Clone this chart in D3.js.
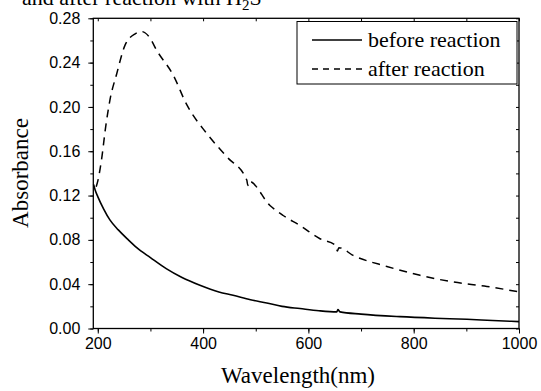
<!DOCTYPE html>
<html><head>
<meta charset="UTF-8">
<style>
  body { margin:0; background:#fff; }
  svg { display:block; }
</style>
<script src="https://cdn.jsdelivr.net/npm/d3@7/dist/d3.min.js"></script>
</head><body>
<svg id="chart" width="541" height="391"></svg>
<script>
// data
const beforeWl = [192, 195, 200, 211, 223, 239, 258, 274, 300, 330, 360, 394, 430, 457, 490, 521, 550, 584, 620, 654, 656, 660, 700, 774, 840, 901, 950, 1000];
const beforeAbs = [0.130, 0.125, 0.119, 0.108, 0.098, 0.089, 0.080, 0.073, 0.064, 0.054, 0.046, 0.039, 0.033, 0.030, 0.026, 0.023, 0.020, 0.018, 0.016, 0.015, 0.017, 0.015, 0.013, 0.0107, 0.0093, 0.0083, 0.0072, 0.0062];

const afterWl = [197, 200, 207, 215, 223, 236, 252, 271, 284, 298, 312, 343, 369, 407, 445, 483, 485, 487, 527, 552, 584, 622, 652, 655, 658, 685, 749, 812, 875, 939, 1000];
const afterAbs = [0.128, 0.133, 0.152, 0.182, 0.206, 0.230, 0.256, 0.266, 0.268, 0.263, 0.251, 0.229, 0.202, 0.176, 0.155, 0.134, 0.129, 0.133, 0.111, 0.102, 0.093, 0.081, 0.075, 0.070, 0.073, 0.066, 0.056, 0.048, 0.042, 0.038, 0.033];

const xTicks = [200, 400, 600, 800, 1000];
const yTicks = [0.00, 0.04, 0.08, 0.12, 0.16, 0.20, 0.24, 0.28];
const seriesNames = ['before reaction', 'after reaction'];

const SERIF = "'Liberation Serif', 'Times New Roman', serif";
const SANS = "'Liberation Sans', Arial, sans-serif";

const L = 93.3, R = 519, T = 18.3, B = 328.5;
const x = d3.scaleLinear().domain([191.5, 1000]).range([L, R]);
const y = d3.scaleLinear().domain([0, 0.28]).range([B, T]);

const svg = d3.select('#chart');

// title (cut at top edge, as in the source)
const title = svg.append('text').attr('font-family', SERIF).attr('x', 22).attr('y', 5).attr('font-size', 22);
title.append('tspan').text('and after reaction with H');
title.append('tspan').attr('font-size', 15).attr('dy', 5).text('2');
title.append('tspan').attr('dy', -5).text('S');

// axes
const minorX = d3.range(200, 1001, 100);
const minorY = d3.range(0, 0.2801, 0.02);

const styleAxis = g => {
  g.select('.domain').remove();
  g.selectAll('.tick line').attr('stroke', '#000');
  g.attr('font-family', SANS).attr('font-size', 16);
  g.selectAll('.tick text').attr('fill', '#000');
};

svg.append('g').attr('transform', `translate(0,${B})`)
  .call(d3.axisBottom(x).tickValues(xTicks).tickFormat(d3.format('d')).tickSize(5).tickPadding(4))
  .call(styleAxis);
svg.append('g').attr('transform', `translate(0,${B})`)
  .call(d3.axisBottom(x).tickValues(minorX).tickFormat('').tickSize(3))
  .call(styleAxis);

svg.append('g').attr('transform', `translate(${L},0)`)
  .call(d3.axisLeft(y).tickValues(yTicks).tickFormat(d3.format('.2f')).tickSize(5).tickPadding(8))
  .call(styleAxis);
svg.append('g').attr('transform', `translate(${L},0)`)
  .call(d3.axisLeft(y).tickValues(minorY).tickFormat('').tickSize(3))
  .call(styleAxis);

// mirror ticks top / right, inward
svg.append('g').attr('transform', `translate(0,${T})`)
  .call(d3.axisBottom(x).tickValues(minorX).tickFormat('').tickSize(3))
  .call(styleAxis);
svg.append('g').attr('transform', `translate(${R},0)`)
  .call(d3.axisLeft(y).tickValues(minorY).tickFormat('').tickSize(3))
  .call(styleAxis);

svg.append('rect').attr('x', L).attr('y', T).attr('width', R - L).attr('height', B - T)
  .attr('fill', 'none').attr('stroke', '#000').attr('stroke-width', 1.3);

// curves
const line = d3.line().x(d => x(d[0])).y(d => y(d[1])).curve(d3.curveMonotoneX);
svg.append('path').datum(d3.zip(beforeWl, beforeAbs))
  .attr('d', line).attr('fill', 'none').attr('stroke', '#000').attr('stroke-width', 1.6);
svg.append('path').datum(d3.zip(afterWl, afterAbs))
  .attr('d', line).attr('fill', 'none').attr('stroke', '#000').attr('stroke-width', 1.5)
  .attr('stroke-dasharray', '8,6');

// axis titles
svg.append('text').attr('font-family', SERIF).attr('font-size', 23)
  .attr('text-anchor', 'middle').attr('x', 298).attr('y', 383).text('Wavelength(nm)');
svg.append('text').attr('font-family', SERIF).attr('font-size', 23)
  .attr('text-anchor', 'middle').attr('transform', 'translate(28,173) rotate(-90)').text('Absorbance');

// legend
const lg = svg.append('g');
lg.append('rect').attr('x', 297).attr('y', 21.5).attr('width', 220).attr('height', 62.5)
  .attr('fill', '#fff').attr('stroke', '#000').attr('stroke-width', 1);
seriesNames.forEach((name, i) => {
  const ly = 40 + i * 29;
  lg.append('line').attr('x1', 312).attr('x2', 362).attr('y1', ly).attr('y2', ly)
    .attr('stroke', '#000').attr('stroke-width', 1.5)
    .attr('stroke-dasharray', i === 1 ? '6,5' : null);
  lg.append('text').attr('font-family', SERIF).attr('font-size', 22)
    .attr('x', 368).attr('y', ly + 7).text(name);
});
</script>
</body></html>
